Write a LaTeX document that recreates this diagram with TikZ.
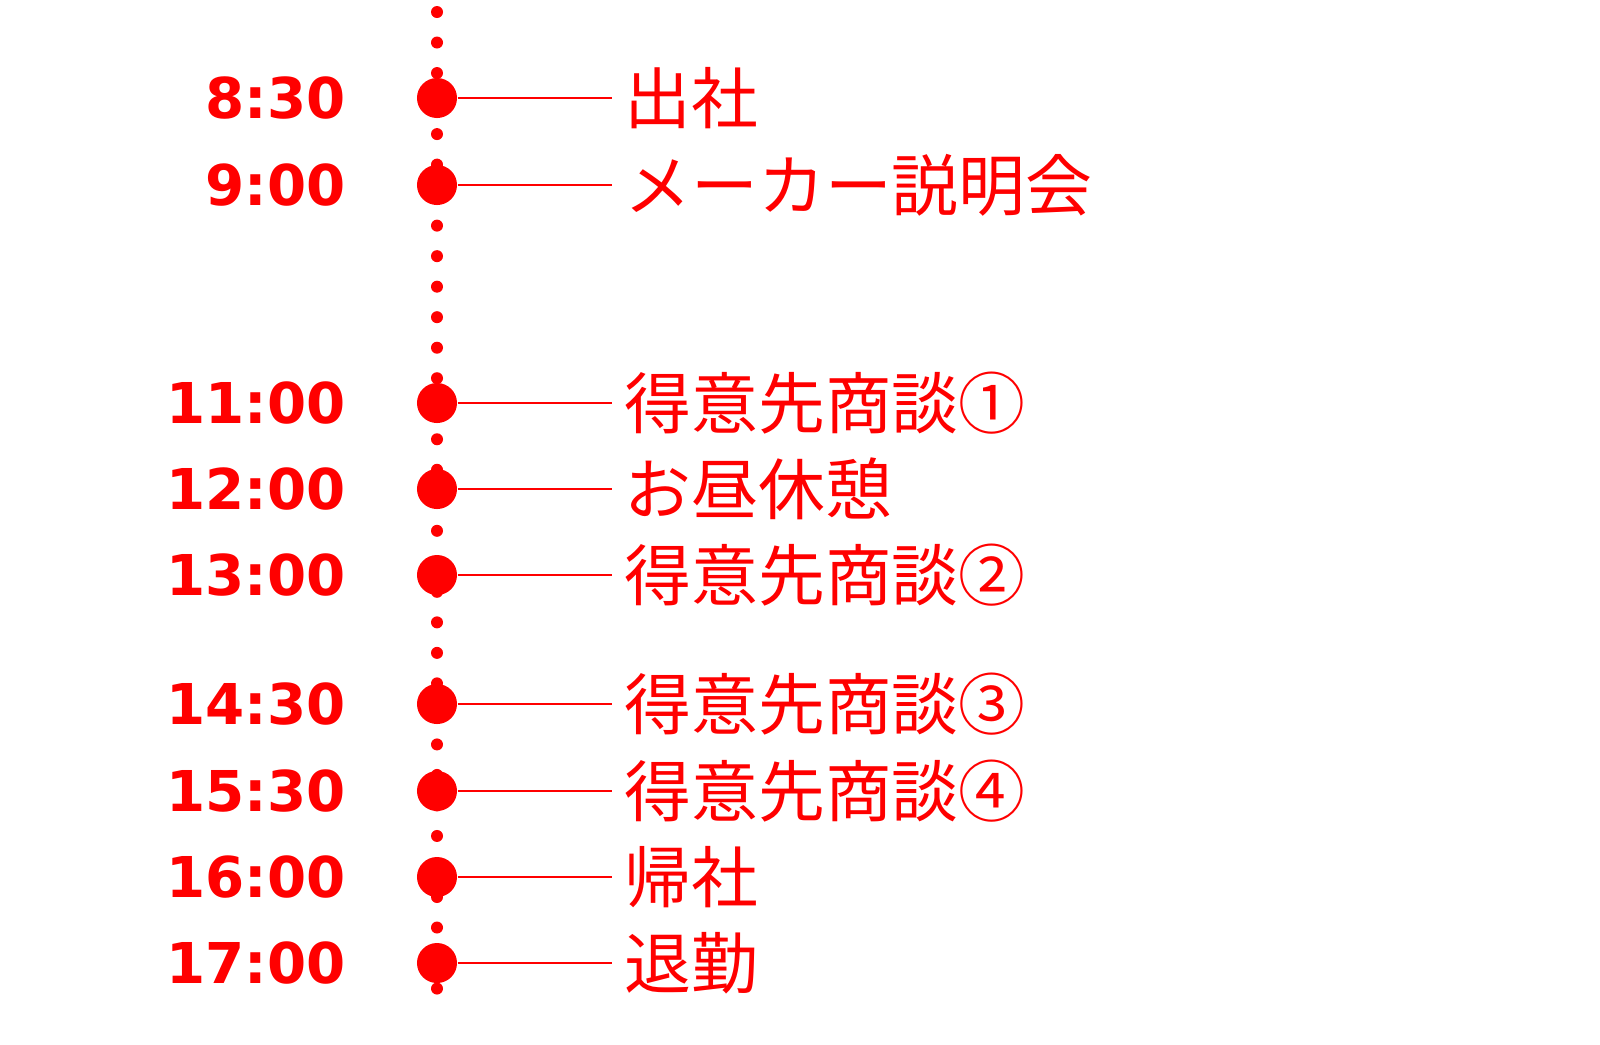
\documentclass[tikz,border=0pt]{standalone}
\usepackage{fontspec}
\newfontfamily\cjk{Noto Sans CJK JP}
\newfontfamily\timefont{DejaVu Sans}[BoldFont={DejaVu Sans Bold}]
\begin{document}
\begin{tikzpicture}[x=0.01cm,y=-0.01cm,
    timedot/.style={circle, fill=red, inner sep=0pt, minimum size=0.4cm},
    timelabel/.style={anchor=east, text=red, font=\timefont\bfseries\fontsize{16}{16}\selectfont},
    eventlabel/.style={anchor=west, text=red, inner sep=0pt, font=\cjk\fontsize{19}{19}\selectfont},
    leader/.style={red, line width=0.7pt}]
    \useasboundingbox (0,0) rectangle (1600,1044);
    \clip (0,0) rectangle (1600,1044);
    %% Dotted spine
    \draw[red, line width=0.12cm, line cap=round, dash pattern=on 0pt off 0.305cm] (437,12) -- (437,1016);
    %% Events
    \foreach \y/\t/\ev [count=\i] in {98/8:30/出社, 185/9:00/メーカー説明会, 403/11:00/得意先商談①,
        489/12:00/お昼休憩, 575/13:00/得意先商談②, 704/14:30/得意先商談③,
        791/15:30/得意先商談④, 877/16:00/帰社, 963/17:00/退勤}{
        \node[timedot] (d\i) at (437,\y) {};
        \node[timelabel] (t\i) at (358,\y) {\t};
        \node[eventlabel] (e\i) at (624,\y) {\ev};
        \draw[leader] (d\i) -- ([xshift=-0.12cm]e\i.west);
    }
\end{tikzpicture}
\end{document}
